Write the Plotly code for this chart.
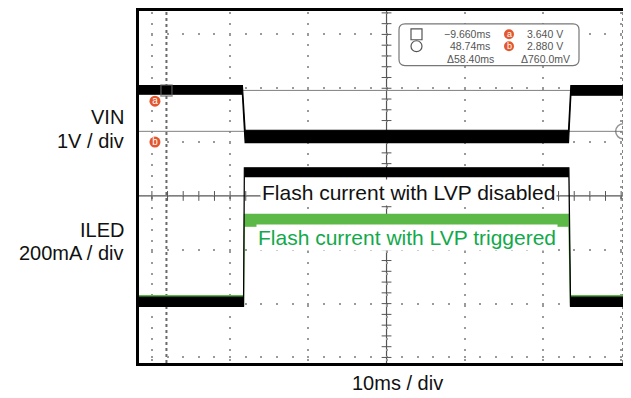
import numpy as np
import plotly.graph_objects as go

# time in ms, trigger (VIN drop) at t = 0
t_vin = [-13.17, 0.05, 0.40, 41.75, 42.05, 49.74]
vin_upper = [3.73, 3.73, 2.90, 2.90, 3.73, 3.73]   # V, top of the noise band
vin_lower = [3.57, 3.57, 2.67, 2.67, 3.55, 3.55]   # V, bottom of the noise band

t_iled = [-13.17, 0.20, 0.30, 41.80, 42.00, 49.74]
iled_dis_upper = [16, 16, 497, 497, 16, 16]        # mA, LVP disabled
iled_dis_lower = [-18, -18, 464, 464, -18, -18]
iled_trg_upper = [22, 22, 324, 324, 22, 22]        # mA, LVP triggered
iled_trg_lower = [-14, -14, 280, 280, -14, -14]

cursor_t = [-9.66, 48.74]     # ms
cursor_v = [3.64, 2.88]       # V
readout_time = ["\u22129.660ms", "48.74ms", "\u039458.40ms"]
readout_volt = ["3.640 V", "2.880 V", "\u0394760.0mV"]

labels_left = ["VIN", "1V / div", "ILED", "200mA / div"]
label_time = "10ms / div"
label_dis = "Flash current with LVP disabled"
label_trg = "Flash current with LVP triggered"

# scope screen settings
VIN_CENTER = 1.68      # V at centre graticule, 1 V/div
ILED_ZERO = -1.961     # div position of 0 mA, 200 mA/div
T_CENTER = 18.48       # ms at centre graticule
x_range = [-13.17, 49.74]
div_lo, div_hi = -3.103, 3.435
y_range = [VIN_CENTER + div_lo, VIN_CENTER + div_hi]
y2_range = [(div_lo - ILED_ZERO) * 200, (div_hi - ILED_ZERO) * 200]

# page offset of the figure (body margin) and plot area in figure pixels
OFF = 8
L, T, W, H = 131, 0, 492, 355
FIG_W, FIG_H = 623, 390

def fx(x):
    return (x - OFF - L) / W
def fy(y):
    return 1 - (y - OFF - T) / H

GREEN_TRACE = "#5cb947"
GREEN_TEXT = "#12a94b"
BADGE = "#e4572e"
FONT = "Arial, Liberation Sans, sans-serif"

fig = go.Figure()

# centre graticule tick marks
vt = VIN_CENTER + np.arange(-16, 18) * 0.2
ht = T_CENTER + np.arange(-16, 17) * 2.0
fig.add_trace(go.Scatter(x=[T_CENTER] * len(vt), y=vt, mode="markers", hoverinfo="skip",
                         marker=dict(symbol="line-ew", size=7, line=dict(width=1, color="#555"))))
fig.add_trace(go.Scatter(x=ht, y=[VIN_CENTER] * len(ht), mode="markers", hoverinfo="skip",
                         marker=dict(symbol="line-ns", size=7, line=dict(width=1, color="#555"))))

def band(t, upper, lower, color, yaxis):
    return go.Scatter(x=t + t[::-1], y=upper + lower[::-1], fill="toself", fillcolor=color,
                      mode="lines", line=dict(color=color, width=1.2), yaxis=yaxis, hoverinfo="skip")

fig.add_trace(band(t_vin, vin_upper, vin_lower, "#000", "y"))
fig.add_trace(band(t_iled, iled_trg_upper, iled_trg_lower, GREEN_TRACE, "y2"))
fig.add_trace(band(t_iled, iled_dis_upper, iled_dis_lower, "#000", "y2"))

# cursor markers
fig.add_trace(go.Scatter(x=cursor_t, y=cursor_v, mode="markers", hoverinfo="skip",
                         marker=dict(symbol=["square-open", "circle-open"], size=[11, 15],
                                     color="#666", line=dict(width=1.5))))
fig.add_trace(go.Scatter(x=[-11.13, -11.13], y=[v - 0.2 for v in cursor_v], mode="markers+text",
                         text=["a", "b"], textposition="middle center", hoverinfo="skip",
                         textfont=dict(color="white", size=10, family=FONT),
                         marker=dict(size=11, color=BADGE)))

shapes = []
for v in cursor_v:
    shapes.append(dict(type="line", xref="x", yref="y", x0=x_range[0], x1=x_range[1], y0=v, y1=v,
                       line=dict(color="#808080", width=1), layer="between"))
for t in cursor_t:
    shapes.append(dict(type="line", xref="x", yref="paper", x0=t, x1=t, y0=0, y1=1,
                       line=dict(color="#6a6a6a", width=2, dash="3px,3px"), layer="between"))
shapes.append(dict(type="line", xref="x", yref="paper", x0=T_CENTER, x1=T_CENTER, y0=0, y1=1,
                   line=dict(color="#555", width=1.2), layer="between"))
shapes.append(dict(type="line", xref="paper", yref="y", x0=0, x1=1, y0=VIN_CENTER, y1=VIN_CENTER,
                   line=dict(color="#555", width=1.2), layer="between"))

# readout box (rounded)
bx0, by0, bx1, by1, r = 399, 21, 579, 63, 6
path = (f"M{fx(bx0 + r)},{fy(by0)} L{fx(bx1 - r)},{fy(by0)} Q{fx(bx1)},{fy(by0)} {fx(bx1)},{fy(by0 + r)} "
        f"L{fx(bx1)},{fy(by1 - r)} Q{fx(bx1)},{fy(by1)} {fx(bx1 - r)},{fy(by1)} "
        f"L{fx(bx0 + r)},{fy(by1)} Q{fx(bx0)},{fy(by1)} {fx(bx0)},{fy(by1 - r)} "
        f"L{fx(bx0)},{fy(by0 + r)} Q{fx(bx0)},{fy(by0)} {fx(bx0 + r)},{fy(by0)} Z")
shapes.append(dict(type="path", xref="paper", yref="paper", path=path, fillcolor="white",
                   line=dict(color="#777", width=1.2)))
shapes.append(dict(type="rect", xref="paper", yref="paper", x0=fx(411), x1=fx(422), y0=fy(26), y1=fy(37),
                   line=dict(color="#555", width=1.2)))
shapes.append(dict(type="circle", xref="paper", yref="paper", x0=fx(411), x1=fx(422), y0=fy(38), y1=fy(49),
                   line=dict(color="#555", width=1.2)))
for yc in (31.5, 43.5):
    shapes.append(dict(type="circle", xref="paper", yref="paper", x0=fx(504), x1=fx(514),
                       y0=fy(yc - 5), y1=fy(yc + 5), fillcolor=BADGE, line=dict(width=0)))

ann = []
def text(s, x, y, size, color="#111", xanchor="center", bg=None):
    d = dict(text=s, xref="paper", yref="paper", x=fx(x), y=fy(y), xanchor=xanchor, yanchor="middle",
             showarrow=False, font=dict(family=FONT, size=size, color=color))
    if bg:
        d.update(bgcolor=bg, borderpad=1)
    ann.append(d)

for s, yc in zip(labels_left, [115, 139, 229, 252.5]):
    text(s, 126, yc, 20, xanchor="right")
text(label_time, 397, 383.5, 20)
text(label_dis, 408, 191, 21, bg="white")
text(label_trg, 407, 236, 21, color=GREEN_TEXT, bg="white")

for s, yc in zip(readout_time, [31.5, 43.5, 56]):
    text(s, 492 if yc < 50 else 496, yc, 10.5, color="#555", xanchor="right")
for s, yc in zip(readout_volt, [31.5, 43.5, 56]):
    text(s, 565 if yc < 50 else 572, yc, 10.5, color="#555", xanchor="right")
for s, yc in zip(["a", "b"], [31.5, 43.5]):
    text(s, 509, yc - 0.5, 9, color="white")

fig.update_layout(
    width=FIG_W, height=FIG_H,
    margin=dict(l=L, r=FIG_W - L - W, t=T, b=FIG_H - T - H),
    paper_bgcolor="white", plot_bgcolor="white",
    showlegend=False,
    shapes=shapes, annotations=ann,
    xaxis=dict(range=x_range, tick0=T_CENTER, dtick=10, showgrid=True, gridcolor="#9a9a9a", gridwidth=2,
               griddash="0px,0.88px,2px,7.98px", showticklabels=False, ticks="", zeroline=False,
               showline=True, linecolor="black", linewidth=2.5, mirror=True),
    yaxis=dict(range=y_range, tick0=VIN_CENTER, dtick=1, showgrid=True, gridcolor="#9a9a9a", gridwidth=2,
               griddash="0px,11.9px,2px,1.74px", showticklabels=False, ticks="", zeroline=False,
               showline=True, linecolor="black", linewidth=2.5, mirror=False),
    yaxis2=dict(range=y2_range, overlaying="y", visible=False, showgrid=False, zeroline=False),
)

fig.write_html("out.html")
